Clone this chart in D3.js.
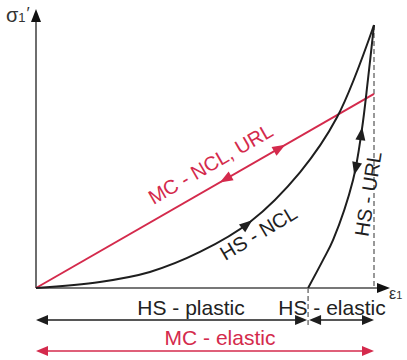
<!DOCTYPE html>
<html><head><meta charset="utf-8">
<script src="https://cdn.jsdelivr.net/npm/d3@7"></script>
<style>html,body{margin:0;padding:0;background:#fff}svg{display:block}text{font-family:"Liberation Sans",Arial,sans-serif}</style>
</head><body>
<svg id="c" width="407" height="360"></svg>
<script>
// schematic data (strain units 0..10, stress units 0..10)
const nclX = [0, 1.89, 3.37, 4.85, 6.33, 7.81, 8.91, 10];
const nclY = [0, 0.23, 0.61, 1.37, 2.51, 4.40, 6.50, 10];
const urlX = [8.05, 8.49, 8.79, 9.38, 9.64, 9.82, 10];
const urlY = [0, 1.06, 1.83, 4.11, 6.01, 7.91, 10];
const mcX = [0, 10];
const mcY = [0, 7.38];
const strainMarks = [0, 8.05, 10]; // plastic/elastic split for HS, end of loading
const labels = {ncl:"HS - NCL", url:"HS - URL", mc:"MC - NCL, URL",
  hsPlastic:"HS - plastic", hsElastic:"HS - elastic", mcElastic:"MC - elastic"};

const RED = "#d42a4c", BLK = "#1e1e1e", AX = "#4a4a4a";
const svg = d3.select("#c");
const x = d3.scaleLinear().domain([0,10]).range([36,374]);
const y = d3.scaleLinear().domain([0,10]).range([288,25]);

function tri(g, tx, ty, ang, col, L=12, W=9){
  const a = ang, c = Math.cos(a), s = Math.sin(a);
  const bx = tx - L*c, by = ty - L*s;
  const p = [[tx,ty],[bx - W/2*s, by + W/2*c],[bx + W/2*s, by - W/2*c]];
  g.append("path").attr("d","M"+p.map(q=>q.join(",")).join("L")+"Z").attr("fill",col);
}

// axes
const ax = svg.append("g");
ax.append("line").attr("x1",x(0)).attr("y1",y(0)).attr("x2",x(0)).attr("y2",20).attr("stroke",AX).attr("stroke-width",1.6);
tri(ax, x(0), 9, -Math.PI/2, "#111", 13, 10);
ax.append("line").attr("x1",x(0)).attr("y1",y(0)).attr("x2",380).attr("y2",y(0)).attr("stroke",AX).attr("stroke-width",1.6);
tri(ax, 390, y(0), 0, "#111", 13, 10);

// dashed verticals
svg.append("line").attr("x1",x(10)).attr("x2",x(10)).attr("y1",y(10)).attr("y2",y(0))
  .attr("stroke","#777").attr("stroke-width",1.5).attr("stroke-dasharray","5,3");
svg.append("line").attr("x1",x(strainMarks[1])).attr("x2",x(strainMarks[1])).attr("y1",y(0)).attr("y2",327)
  .attr("stroke","#777").attr("stroke-width",1.5).attr("stroke-dasharray","5,3");

// curves
const line = d3.line().x(d=>x(d[0])).y(d=>y(d[1]));
const mcP = svg.append("path").attr("d", line(d3.zip(mcX,mcY))).attr("fill","none").attr("stroke",RED).attr("stroke-width",2);
const smooth = d3.line().x(d=>x(d[0])).y(d=>y(d[1])).curve(d3.curveCatmullRom.alpha(0.5));
const nclP = svg.append("path").attr("d", smooth(d3.zip(nclX,nclY))).attr("fill","none").attr("stroke",BLK).attr("stroke-width",2);
const urlP = svg.append("path").attr("d", smooth(d3.zip(urlX,urlY))).attr("fill","none").attr("stroke",BLK).attr("stroke-width",2);

function arrowOn(path, key, target, forward, col){
  const node = path.node(), len = node.getTotalLength();
  let best = 0, bd = 1e9;
  for(let l=0;l<=len;l+=0.5){ const p=node.getPointAtLength(l); const v = key==="x"?p.x:p.y; const d=Math.abs(v-target); if(d<bd){bd=d;best=l;} }
  const p1 = node.getPointAtLength(Math.max(0,best-2)), p2 = node.getPointAtLength(Math.min(len,best+2));
  let ang = Math.atan2(p2.y-p1.y, p2.x-p1.x); if(!forward) ang += Math.PI;
  const p = node.getPointAtLength(best);
  tri(svg, p.x, p.y, ang, col, 13, 10);
}
arrowOn(nclP, "x", x(6.4), true, BLK);
arrowOn(mcP, "x", x(7.37), true, RED);
arrowOn(mcP, "x", x(5.44), false, RED);
arrowOn(urlP, "y", y(6.12), true, BLK);
arrowOn(urlP, "y", y(4.30), false, BLK);

// labels on curves
svg.append("text").attr("transform","translate(214,170) rotate(-30)").attr("text-anchor","middle")
  .attr("font-size",20).attr("fill",RED).text(labels.mc);
svg.append("text").attr("transform","translate(262,239) rotate(-31)").attr("text-anchor","middle")
  .attr("font-size",20).attr("fill",BLK).text(labels.ncl);
svg.append("text").attr("transform","translate(375,195) rotate(-81)").attr("text-anchor","middle")
  .attr("font-size",20).attr("fill",BLK).text(labels.url);

// axis labels
const sl = svg.append("text").attr("x",6).attr("y",22).attr("font-size",20).attr("fill","#333");
sl.append("tspan").text("σ");
sl.append("tspan").attr("font-size",13).text("1");
sl.append("tspan").attr("font-size",17).attr("dy",-3).attr("dx",1).text("′");
const el = svg.append("text").attr("x",389).attr("y",299).attr("font-size",16).attr("fill","#333");
el.append("tspan").text("ε");
el.append("tspan").attr("font-size",11).text("1");

// bottom ranges
function dbl(x1, x2, yy, col){
  svg.append("line").attr("x1",x1+6).attr("x2",x2-6).attr("y1",yy).attr("y2",yy).attr("stroke",col).attr("stroke-width",1.6);
  tri(svg, x1, yy, Math.PI, col, 12, 10);
  tri(svg, x2, yy, 0, col, 12, 10);
}
dbl(x(strainMarks[0]), x(strainMarks[1])-1, 320, BLK);
dbl(x(strainMarks[1])+1, x(strainMarks[2]), 320, BLK);
dbl(x(strainMarks[0]), x(strainMarks[2]), 351, RED);

svg.append("text").attr("x",191).attr("y",315).attr("text-anchor","middle").attr("font-size",21).attr("fill","#222").text(labels.hsPlastic);
svg.append("text").attr("x",332).attr("y",315).attr("text-anchor","middle").attr("font-size",21).attr("fill","#222").text(labels.hsElastic);
svg.append("text").attr("x",220).attr("y",345).attr("text-anchor","middle").attr("font-size",21).attr("fill",RED).text(labels.mcElastic);
</script>
</body></html>
